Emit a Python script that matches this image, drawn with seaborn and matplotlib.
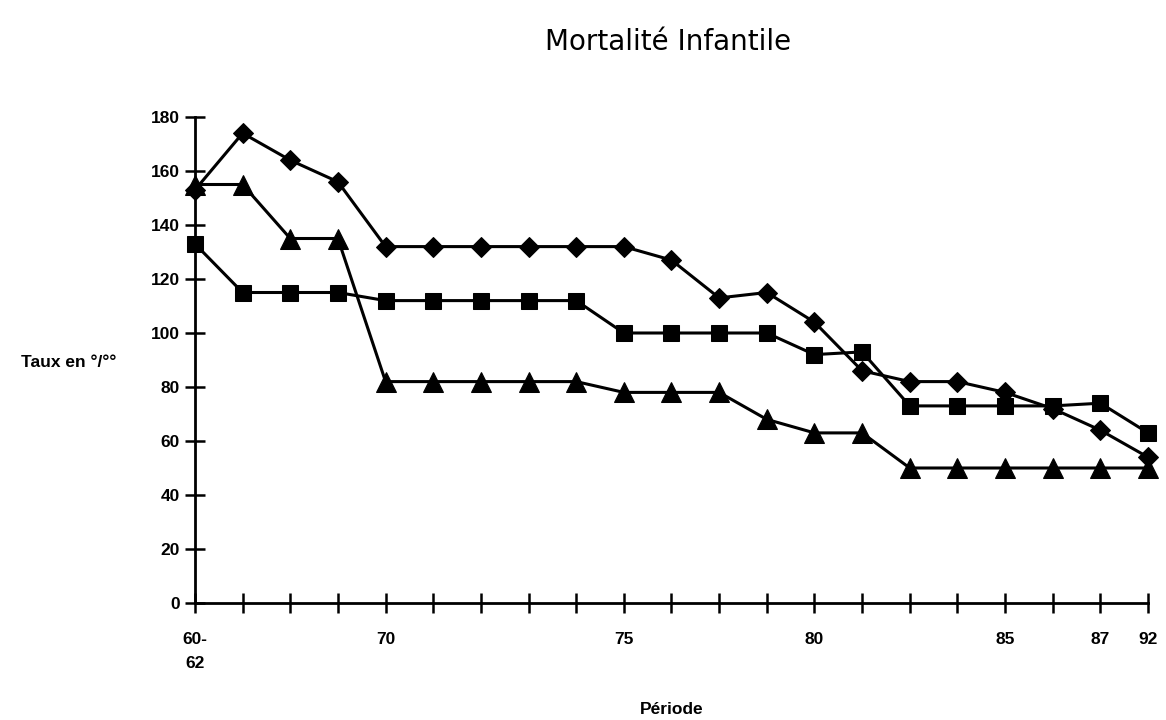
import pandas as pd
import numpy as np
import matplotlib.pyplot as plt
import seaborn as sns

# valeurs (taux pour mille)
serie_losange = [153, 174, 164, 156, 132, 132, 132, 132, 132, 132, 127, 113, 115, 104, 86, 82, 82, 78, 72, 64, 54]
serie_carre = [133, 115, 115, 115, 112, 112, 112, 112, 112, 100, 100, 100, 100, 92, 93, 73, 73, 73, 73, 74, 63]
serie_triangle = [155, 155, 135, 135, 82, 82, 82, 82, 82, 78, 78, 78, 68, 63, 63, 50, 50, 50, 50, 50, 50]

# etiquettes de l'axe des periodes (les autres graduations sont sans texte)
periodes = ['60-\n62', '', '', '', '70', '', '', '', '', '75', '', '', '', '80',
            '', '', '', '85', '', '87', '92']
yticks = [0, 20, 40, 60, 80, 100, 120, 140, 160, 180]

sns.set_style('white', {'text.color': 'black', 'xtick.color': 'black', 'ytick.color': 'black',
                        'xtick.bottom': True, 'ytick.left': True})
plt.rcParams['font.family'] = ['Liberation Sans', 'DejaVu Sans']

df = pd.DataFrame({
    'rang': np.arange(len(periodes)),
    'losange': serie_losange,
    'carre': serie_carre,
    'triangle': serie_triangle,
})

fig = plt.figure(figsize=(11.66, 7.2), dpi=100)
ax = fig.add_axes([0.1672, 0.1625, 0.8174, 0.675])

styles = {'losange': ('D', 10), 'carre': ('s', 12), 'triangle': ('^', 14)}
for col, (mk, ms) in styles.items():
    sns.lineplot(data=df, x='rang', y=col, ax=ax, color='black', linewidth=2.2,
                 marker=mk, markersize=ms, markeredgecolor='black', clip_on=False)

ax.set_xlim(0, len(periodes) - 1)
ax.set_ylim(0, 180)
ax.set_xticks(df['rang'])
ax.set_xticklabels(periodes, fontweight='bold', fontsize=12.5, linespacing=1.7, va='top')
ax.set_yticks(yticks)
ax.set_yticklabels([str(v) for v in yticks], fontweight='bold', fontsize=12.5)
ax.tick_params(axis='both', direction='inout', length=14, width=1.8, colors='black',
               bottom=True, left=True)
ax.tick_params(axis='x', pad=14)
ax.tick_params(axis='y', pad=4)

sns.despine(ax=ax)
for s in ['left', 'bottom']:
    ax.spines[s].set_linewidth(2)
    ax.spines[s].set_color('black')

ax.set_xlabel('')
ax.set_ylabel('')
fig.text(0.059, 0.496, 'Taux en °/°°', ha='center', va='center', fontweight='bold',
         fontsize=12.5, color='black')
fig.text(0.576, 0.014, 'Période', ha='center', va='center', fontweight='bold',
         fontsize=12.5, color='black')
fig.text(0.573, 0.942, 'Mortalité Infantile', ha='center', va='center', fontsize=20,
         family=['DejaVu Sans'], color='black')

fig.savefig('out.png', dpi=100)
